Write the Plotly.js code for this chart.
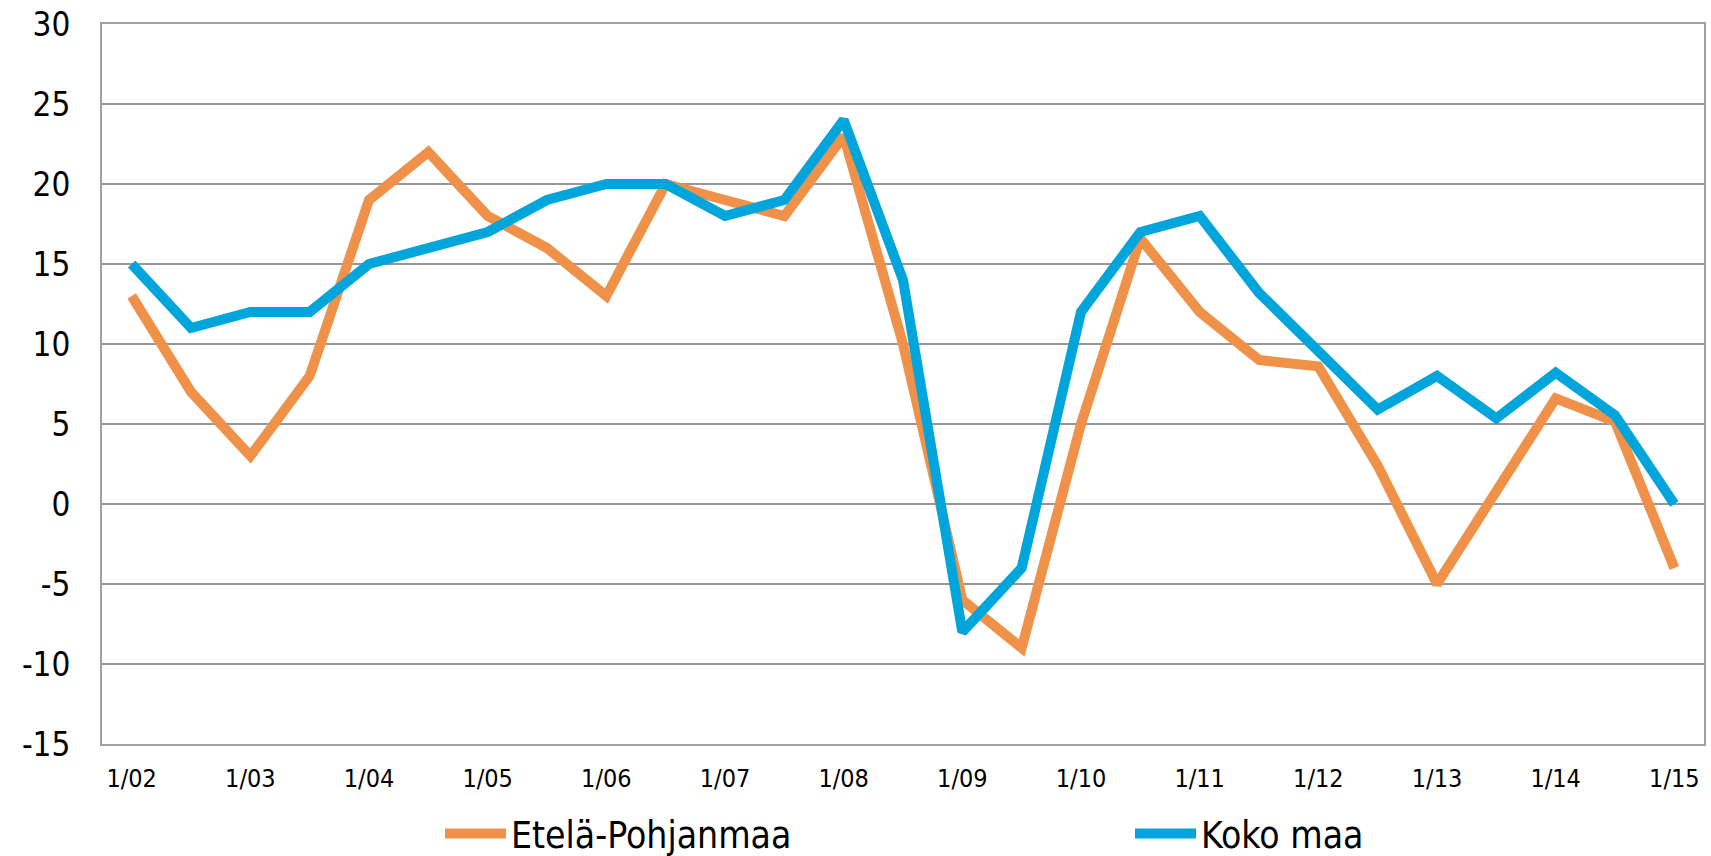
<!DOCTYPE html>
<html>
<head>
<meta charset="utf-8">
<script src="https://cdn.plot.ly/plotly-3.0.1.min.js"></script>
<style>
  html, body { margin: 0; padding: 0; background: #fff; }
  #chart { width: 1711px; height: 856px; }
</style>
</head>
<body>
<div id="chart"></div>
<script>
const periods = ["1/02","7/02","1/03","7/03","1/04","7/04","1/05","7/05","1/06","7/06",
                 "1/07","7/07","1/08","7/08","1/09","7/09","1/10","7/10","1/11","7/11",
                 "1/12","7/12","1/13","7/13","1/14","7/14","1/15"];
const tickLabels = ["1/02","1/03","1/04","1/05","1/06","1/07","1/08","1/09","1/10","1/11","1/12","1/13","1/14","1/15"];
const yTickValues = [-15, -10, -5, 0, 5, 10, 15, 20, 25, 30];
const yTickLabels = ["-15", "-10", "-5", "0", "5", "10", "15", "20", "25", "30"];
const etelaPohjanmaa = [13, 7, 3, 8, 19, 22, 18, 16, 13, 20,
                        19, 18, 23, 10, -6, -9, 5, 16.6, 12, 9,
                        8.6, 2.4, -5, 0.9, 6.6, 5.15, -4];
const kokoMaa = [15, 11, 12, 12, 15, 16, 17, 19, 20, 20,
                 18, 19, 24, 14, -8, -4, 12, 17, 18, 13.2,
                 9.5, 5.9, 8, 5.35, 8.2, 5.55, 0];
const seriesNames = ["Etelä-Pohjanmaa", "Koko maa"];

const FONT = "'DejaVu Sans Condensed', 'Noto Sans', sans-serif";
const PLOT_L = 102, PLOT_W = 1602;

const traces = [
  {
    x: periods, y: etelaPohjanmaa, name: seriesNames[0], type: "scatter", mode: "lines",
    line: { color: "#F0914A", width: 10 }, legend: "legend"
  },
  {
    x: periods, y: kokoMaa, name: seriesNames[1], type: "scatter", mode: "lines",
    line: { color: "#00A5DB", width: 10 }, legend: "legend2"
  }
];

function legendBox(leftPx) {
  return {
    orientation: "h",
    x: (leftPx - PLOT_L) / PLOT_W, xanchor: "left",
    y: -0.125, yanchor: "middle",
    font: { size: 37, family: FONT, color: "#000" },
    itemwidth: 61,
    bgcolor: "rgba(0,0,0,0)", borderwidth: 0
  };
}

const layout = {
  width: 1711, height: 856,
  margin: { l: 102, r: 7, t: 24, b: 112, autoexpand: false },
  paper_bgcolor: "#ffffff", plot_bgcolor: "#ffffff",
  font: { family: FONT, color: "#000000" },
  showlegend: true,
  legend: legendBox(440),
  legend2: legendBox(1130),
  xaxis: {
    type: "category",
    categoryorder: "array", categoryarray: periods,
    range: [-0.5, periods.length - 0.5],
    tickmode: "array", tickvals: tickLabels, ticktext: tickLabels,
    showgrid: false, zeroline: false,
    showline: true, linecolor: "#A0A0A0", linewidth: 2, mirror: true,
    ticks: "",
    ticklabelstandoff: 11,
    tickfont: { size: 25, family: FONT, color: "#000" }
  },
  yaxis: {
    range: [-15, 30],
    tickmode: "array", tickvals: yTickValues, ticktext: yTickLabels,
    showgrid: true, gridcolor: "#969696", gridwidth: 1.6,
    zeroline: false,
    showline: true, linecolor: "#A0A0A0", linewidth: 2, mirror: true,
    ticks: "",
    ticklabelstandoff: 23,
    tickfont: { size: 33, family: FONT, color: "#000" }
  }
};

Plotly.newPlot("chart", traces, layout, { displayModeBar: false, staticPlot: true });
</script>
</body>
</html>
